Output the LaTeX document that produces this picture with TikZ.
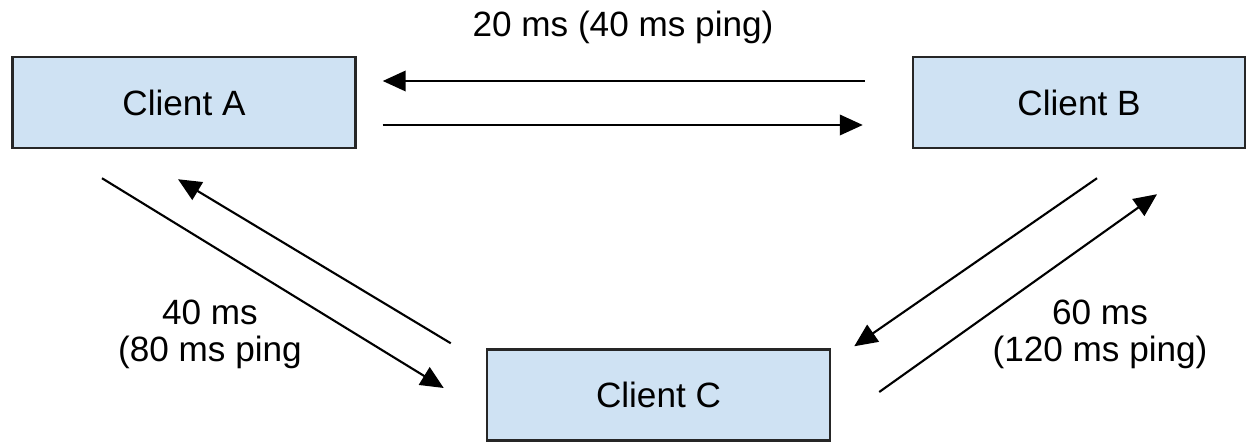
\documentclass[tikz,border=0pt]{standalone}
\usepackage{fontspec}
\setmainfont{Liberation Sans}
\usetikzlibrary{arrows.meta}
\definecolor{clientblue}{HTML}{CFE2F3}
\begin{document}
\begin{tikzpicture}[
	client/.style={draw=black!85, line width=1.4pt, fill=clientblue, minimum width=6.86cm, minimum height=1.82cm, inner sep=0pt},
	msg/.style={line width=1.2pt, -{Triangle[length=0.46cm,width=0.41cm]}},
	lbl/.style={align=center, inner sep=0pt},
	every node/.style={font=\fontsize{20}{21}\selectfont}]
			\useasboundingbox (0,0) rectangle (25.12,8.84);
				\node[client](ca) at (3.68,6.79){Client A};
				\node[client, minimum width=6.64cm](cb) at (21.58,6.79){Client B};
				\node[client](cc) at (13.17,0.94){Client C};
				\node[lbl, anchor=base](lab) at (12.46,8.10){20 ms (40 ms ping)};
				\node[lbl](lac) at (4.20,2.15){40 ms\\(80 ms ping};
				\node[lbl](lbc) at (22.00,2.15){60 ms\\(120 ms ping)};
				\draw[msg]([xshift=-0.94cm, yshift=0.43cm]cb.west) to ([xshift=0.52cm, yshift=0.43cm]ca.east);
				\draw[msg]([xshift=0.52cm, yshift=-0.45cm]ca.east) to ([xshift=-0.98cm, yshift=-0.45cm]cb.west);
				\draw[msg]([xshift=-1.64cm, yshift=-0.58cm]ca.south) to ([xshift=-0.84cm, yshift=0.14cm]cc.west);
				\draw[msg]([xshift=-0.70cm, yshift=0.10cm]cc.north west) to ([xshift=-0.12cm, yshift=-0.60cm]ca.south);
				\draw[msg]([xshift=0.36cm, yshift=-0.58cm]cb.south) to ([xshift=0.46cm, yshift=0.04cm]cc.north east);
				\draw[msg]([xshift=0.96cm, yshift=0.06cm]cc.east) to ([xshift=1.56cm, yshift=-0.90cm]cb.south);
			\end{tikzpicture}
\end{document}
